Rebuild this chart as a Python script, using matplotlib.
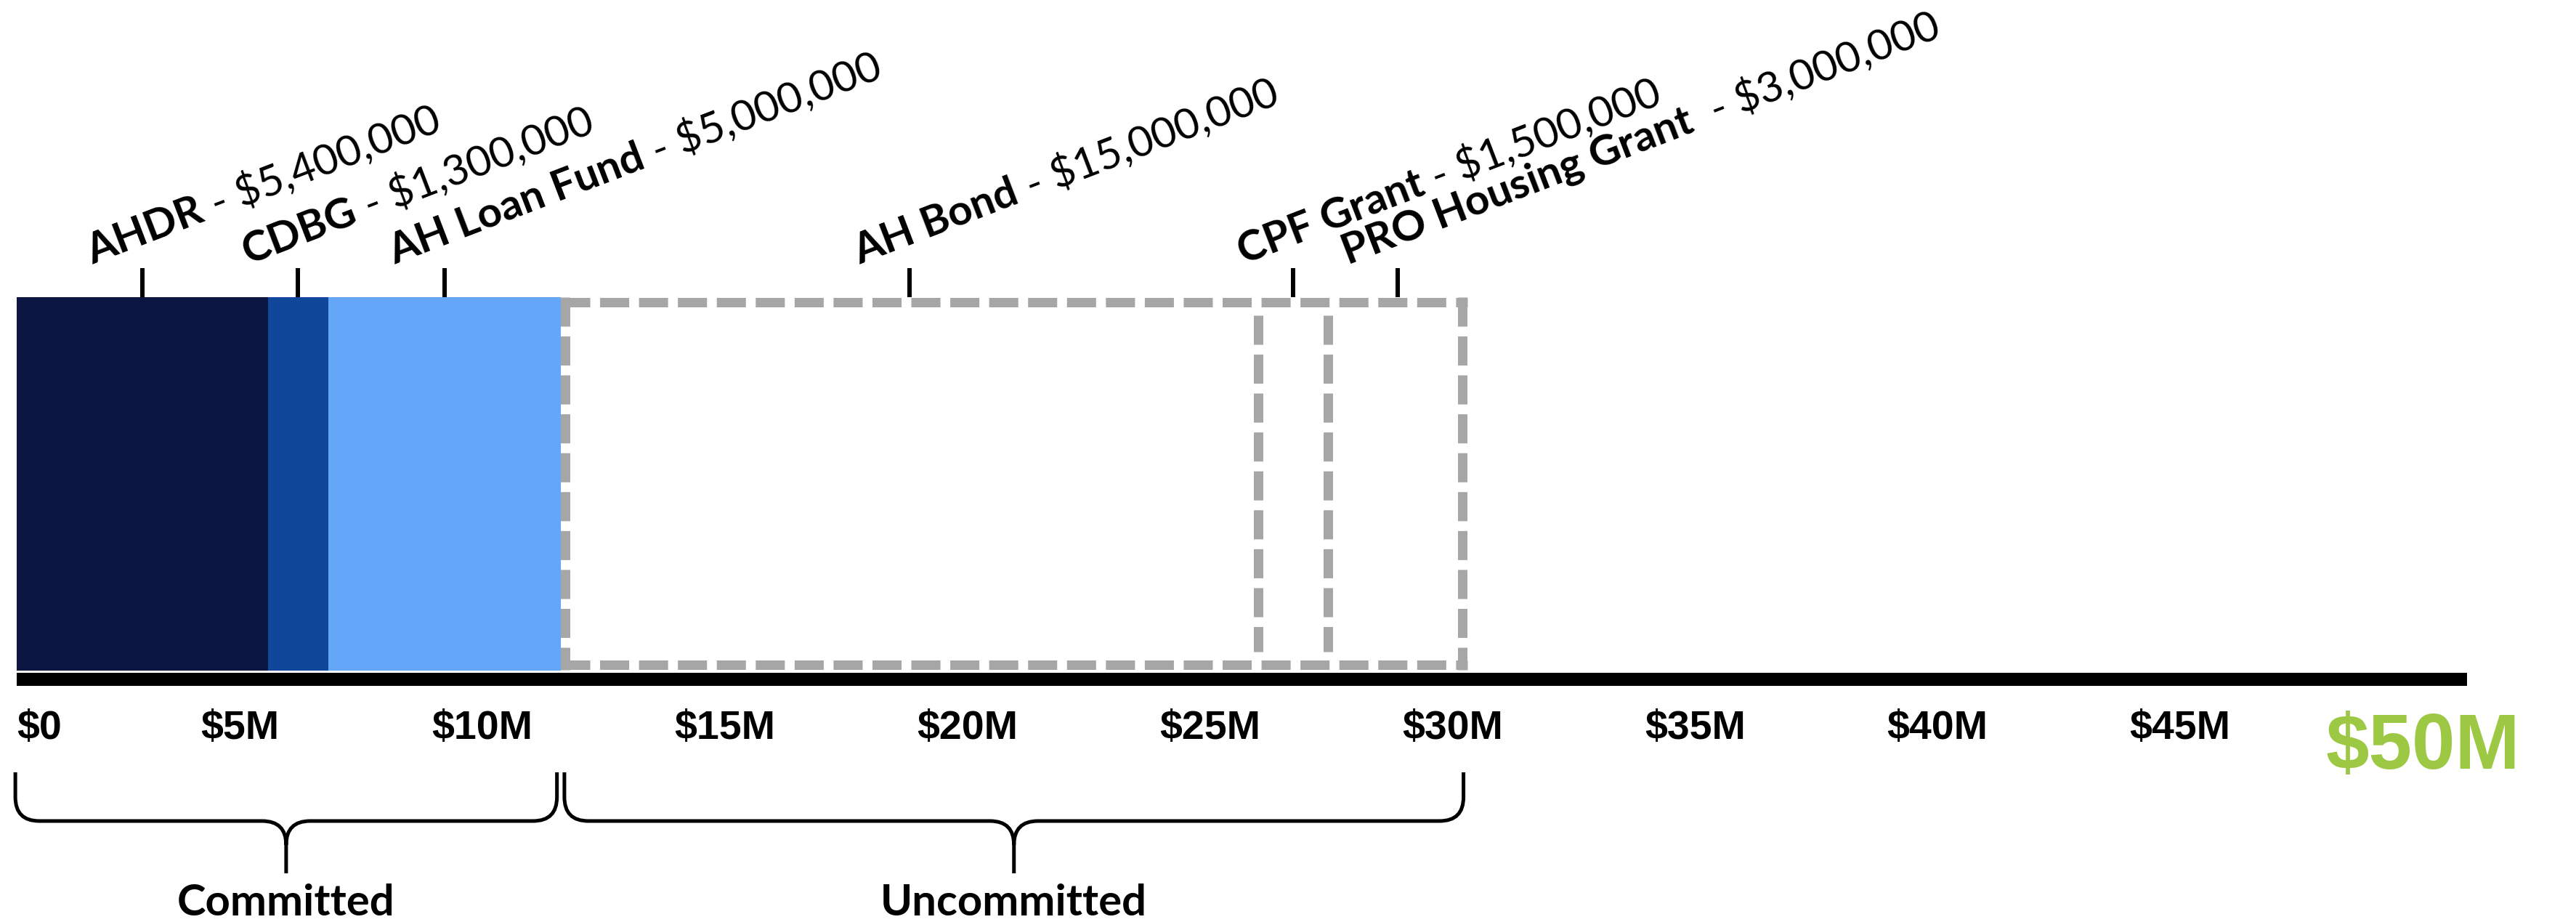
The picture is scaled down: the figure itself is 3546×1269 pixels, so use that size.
import numpy as np
import matplotlib
matplotlib.use("Agg")
import matplotlib.pyplot as plt
import matplotlib.transforms as mtransforms
from matplotlib.path import Path
from matplotlib.patches import PathPatch

# fuentes de fondos, en millones de dolares
committed_names = ["AHDR", "CDBG", "AH Loan Fund"]
committed_amounts = [5.4, 1.3, 5.0]
committed_text = ["$5,400,000", "$1,300,000", "$5,000,000"]

uncommitted_names = ["AH Bond", "CPF Grant", "PRO Housing Grant "]
uncommitted_amounts = [15.0, 1.5, 3.0]
uncommitted_text = ["$15,000,000", "$1,500,000", "$3,000,000"]

tick_values = [5, 10, 15, 20, 25, 30, 35, 40, 45]
tick_labels = ["$5M", "$10M", "$15M", "$20M", "$25M", "$30M", "$35M", "$40M", "$45M"]
scale_max = 50
scale_max_label = "$50M"
group_names = ["Committed", "Uncommitted"]

# estilos
committed_colors = ["#0a1541", "#10479a", "#64a6f8"]
GRAY = "#a6a6a6"
GREEN = "#9dc843"
W, H = 3546, 1269
PX = 0.72  # puntos por pixel a 100 dpi
ANGLE = 21
dash = (0, (3.08, 1.04))
label_font = ["Lato", "DejaVu Sans"]
tick_font = ["Liberation Sans", "DejaVu Sans"]

fig = plt.figure(figsize=(W / 100, H / 100), dpi=100)
ax = fig.add_axes([0, 0, 1, 1])
ax.set_xlim(-0.36, 55.05)
ax.set_ylim(H, 0)
ax.axis("off")

# eje de las etiquetas de la escala
lab = fig.add_axes([0, 0, 1, 1])
lab.set_xlim(0.06, 53.16)
lab.set_ylim(H, 0)
lab.axis("off")

# barras comprometidas
c_left = np.concatenate([[0], np.cumsum(committed_amounts)[:-1]])
ax.barh(666, committed_amounts, left=c_left, height=514,
        color=committed_colors, linewidth=0)

# caja punteada de lo no comprometido
u_start = sum(committed_amounts)
u_edges = u_start + np.concatenate([[0], np.cumsum(uncommitted_amounts)])
lw_box = 13 * PX
ax.hlines([415.5, 914.5], u_edges[0], u_edges[-1], colors=GRAY,
          linewidth=lw_box, linestyles=[dash])
ax.vlines(u_edges[1:-1], 434, 897, colors=GRAY, linewidth=lw_box,
          linestyles=[dash])
for x, shift in [(u_edges[0], 6.5), (u_edges[-1], -6.5)]:
    tr = ax.transData + mtransforms.ScaledTranslation(shift / 100, 0, fig.dpi_scale_trans)
    ax.plot([x, x], [409, 922], color=GRAY, linewidth=lw_box,
            linestyle=dash, transform=tr)

# linea base negra
ax.axhline(935, xmin=23 / W, xmax=3396 / W, color="black",
           linewidth=18 * PX, solid_capstyle="butt")

# marcas y etiquetas inclinadas
names = committed_names + uncommitted_names
amounts = committed_text + uncommitted_text
lefts = np.concatenate([c_left, u_edges[:-1]])
widths = np.array(committed_amounts + uncommitted_amounts)
centers = lefts + widths / 2
ax.vlines(centers, 369, 409, colors="black", linewidth=6 * PX)

renderer = fig.canvas.get_renderer()
fs_label = 42
theta = np.radians(ANGLE)
for x, name, amt in zip(centers, names, amounts):
    dx, dy = -68 * PX, 5 * PX
    ax.annotate(name, xy=(x, 369), xytext=(dx, dy), textcoords="offset points",
                rotation=ANGLE, rotation_mode="anchor", ha="left", va="baseline",
                fontsize=fs_label, fontweight="bold", family=label_font)
    tmp = fig.text(0, 0, name, fontsize=fs_label, fontweight="bold", family=label_font)
    w = tmp.get_window_extent(renderer).width * PX
    tmp.remove()
    ax.annotate(" - " + amt, xy=(x, 369),
                xytext=(dx + w * np.cos(theta), dy + w * np.sin(theta)),
                textcoords="offset points", rotation=ANGLE, rotation_mode="anchor",
                ha="left", va="baseline", fontsize=fs_label, fontweight="normal",
                family=label_font, color="black")

# etiquetas de la escala
ax.text(0, 1017, "$0", ha="left", va="baseline", fontsize=40,
        fontweight="bold", family=tick_font)
for v, s in zip(tick_values, tick_labels):
    lab.text(v, 1017, s, ha="center", va="baseline", fontsize=40,
             fontweight="bold", family=tick_font)
lab.text(scale_max, 1058, scale_max_label, ha="center", va="baseline",
         fontsize=77, fontweight="bold", color=GREEN, family=tick_font)


def brace(x0, x1, top=1063, mid=1130, bottom=1202, r=33):
    rx = r / 64
    xc = (x0 + x1) / 2
    verts = [(x0, top), (x0, mid - r), (x0, mid), (x0 + rx, mid),
             (xc - rx, mid), (xc, mid), (xc, mid + r), (xc, bottom),
             (x1, top), (x1, mid - r), (x1, mid), (x1 - rx, mid),
             (xc + rx, mid), (xc, mid), (xc, mid + r)]
    codes = [Path.MOVETO, Path.LINETO, Path.CURVE3, Path.CURVE3,
             Path.LINETO, Path.CURVE3, Path.CURVE3, Path.LINETO,
             Path.MOVETO, Path.LINETO, Path.CURVE3, Path.CURVE3,
             Path.LINETO, Path.CURVE3, Path.CURVE3]
    ax.add_patch(PathPatch(Path(verts, codes), fill=False, edgecolor="black",
                           linewidth=5 * PX, capstyle="butt"))
    return xc


pad = 0.08
spans = [(-0.03, u_start - pad), (u_start + pad, u_edges[-1] - pad)]
for (x0, x1), g in zip(spans, group_names):
    xc = brace(x0, x1)
    ax.text(xc, 1260, g, ha="center", va="baseline", fontsize=43,
            fontweight="bold", family=label_font)

fig.savefig("out.png", dpi=100)
